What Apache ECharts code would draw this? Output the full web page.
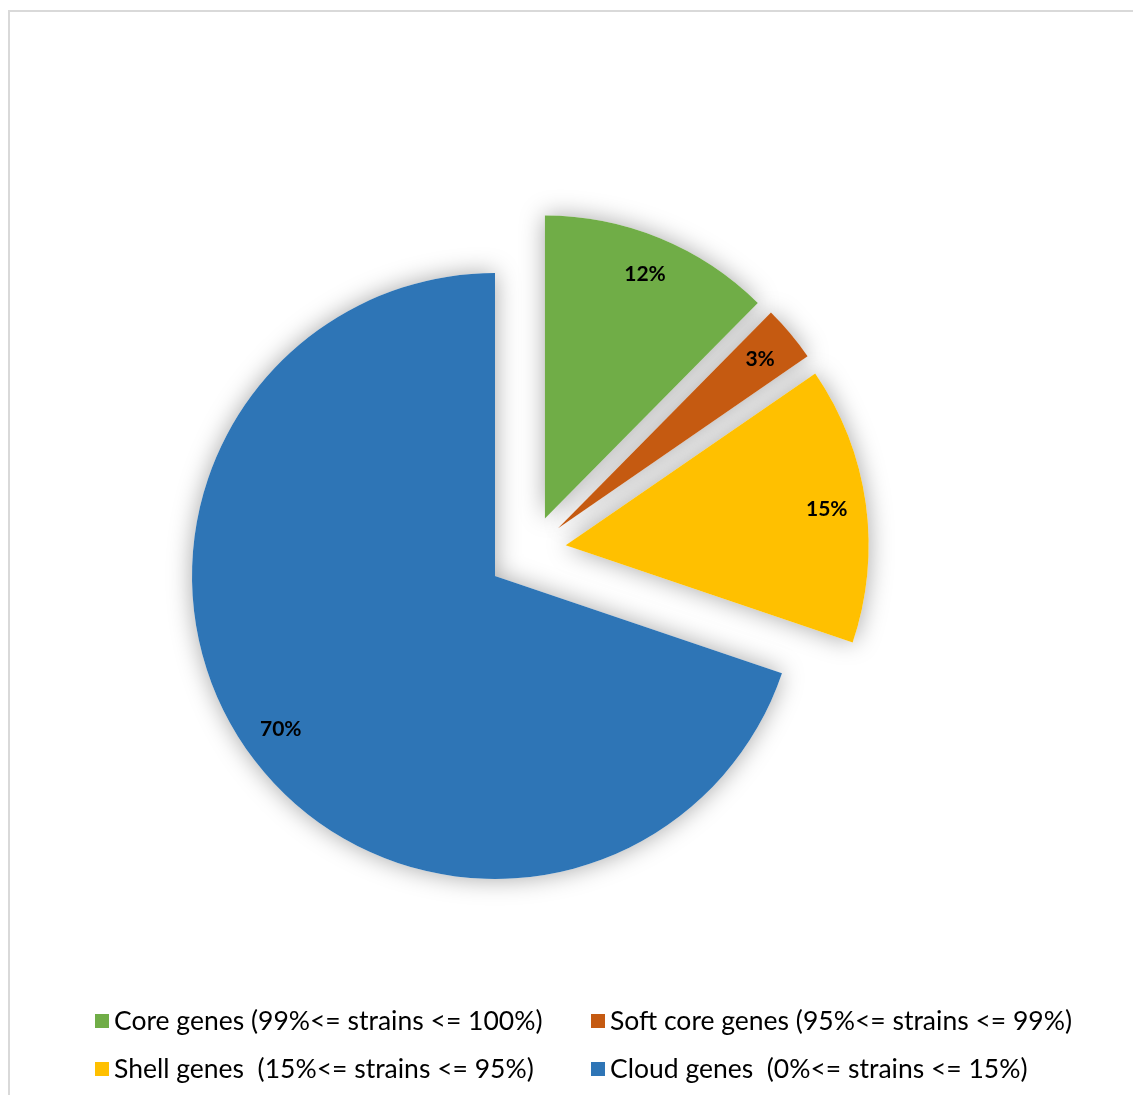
<!DOCTYPE html>
<html>
<head>
<meta charset="utf-8">
<script src="https://cdn.jsdelivr.net/npm/echarts@6/dist/echarts.min.js"></script>
<style>html,body{margin:0;background:#fff}</style>
</head>
<body>
<div id="genePie" style="width:1133px;height:1095px"></div>
<script>
var categories = [
    'Core genes (99%<= strains <= 100%)',
    'Soft core genes (95%<= strains <= 99%)',
    'Shell genes  (15%<= strains <= 95%)',
    'Cloud genes  (0%<= strains <= 15%)'
];
var shares = [12.4, 3.0, 14.8, 69.8];
var colors = ['#70AD47', '#C55A11', '#FFC000', '#2E75B6'];
// slices pulled out of the pie
var exploded = [true, true, true, false];

var R = 303;

// one pie layer: shadow underneath, coloured fill, or a ring that only carries labels
function pieLayer(exp, kind) {
    return {
        type: 'pie',
        center: exp ? [532, 550] : [495, 576],
        radius: kind === 'label' ? [R * 0.72, R] : [0, R],
        selectedMode: exp ? 'multiple' : false,
        selectedOffset: 34,
        z: kind === 'shadow' ? 1 : (kind === 'fill' ? 2 : 3),
        silent: true,
        animation: false,
        emphasis: {disabled: true},
        avoidLabelOverlap: false,
        labelLine: {show: false},
        label: {
            show: kind === 'label',
            position: 'inside',
            formatter: function (p) { return Math.round(p.percent) + '%'; },
            color: '#000',
            fontWeight: 'bold',
            fontSize: 21,
            fontFamily: 'Lato'
        },
        data: categories.map(function (name, i) {
            var on = exploded[i] === exp;
            var item = {name: name, value: shares[i], selected: exp && on};
            if (!on) {
                item.itemStyle = {color: 'rgba(0,0,0,0)'};
                item.label = {show: false};
            } else if (kind === 'shadow') {
                item.itemStyle = {color: '#fff', shadowBlur: 24, shadowColor: 'rgba(0,0,0,0.35)'};
            } else if (kind === 'fill') {
                item.itemStyle = {color: colors[i]};
            } else {
                item.itemStyle = {color: 'rgba(0,0,0,0)'};
            }
            return item;
        })
    };
}

function legendAt(left, idx) {
    return {
        left: left,
        top: 1001,
        orient: 'vertical',
        icon: 'rect',
        itemWidth: 14,
        itemHeight: 14,
        itemGap: 18,
        selectedMode: false,
        textStyle: {fontSize: 26.5, fontFamily: 'Lato', color: '#000', lineHeight: 30},
        data: idx.map(function (i) {
            return {name: categories[i], itemStyle: {color: colors[i]}};
        })
    };
}

var chart = echarts.init(document.getElementById('genePie'));
var option = {
    backgroundColor: '#fff',
    animation: false,
    graphic: [{
        type: 'rect',
        shape: {x: 9, y: 11, width: 1300, height: 1300},
        style: {fill: 'none', stroke: '#d9d9d9', lineWidth: 2},
        silent: true
    }],
    legend: [legendAt(90, [0, 2]), legendAt(586, [1, 3])],
    series: [
        pieLayer(false, 'shadow'), pieLayer(true, 'shadow'),
        pieLayer(false, 'fill'), pieLayer(true, 'fill'),
        pieLayer(false, 'label'), pieLayer(true, 'label')
    ]
};
chart.setOption(option);
</script>
</body>
</html>
